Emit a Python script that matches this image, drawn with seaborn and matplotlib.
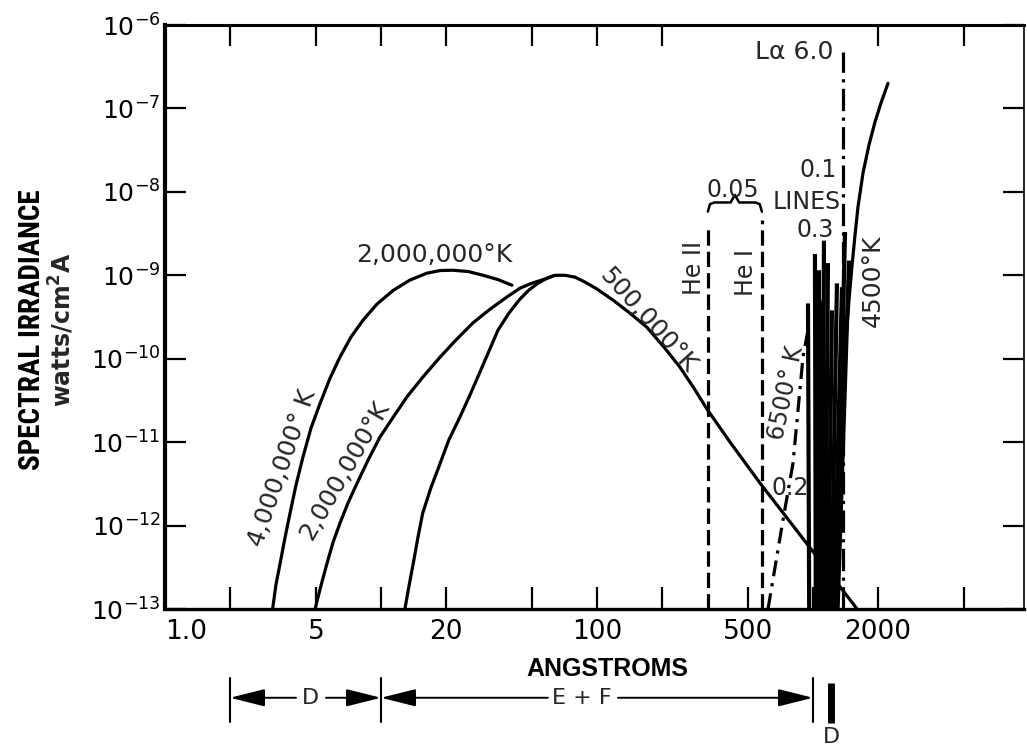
import numpy as np
import pandas as pd
import matplotlib
matplotlib.use("Agg")
import matplotlib.pyplot as plt
import matplotlib.transforms as mtransforms
from matplotlib import font_manager
import seaborn as sns

# ---------------- data ----------------
# curve 1 : 4,000,000 K branch that continues as the upper 2,000,000 K arc
c1_wl = [3.15, 3.26, 3.41, 3.59, 3.79, 4.04, 4.35, 4.74, 5.22, 5.81, 6.46, 7.26,
         8.26, 9.58, 11.4, 13.6, 16.3, 18.8, 21.5, 25.3, 29.7, 34.8, 40.4]
c1_f = [1.0e-13, 1.93e-13, 3.5e-13, 7.06e-13, 1.4e-12, 3.05e-12, 6.6e-12, 1.47e-11,
        2.9e-11, 5.85e-11, 1.05e-10, 1.82e-10, 2.9e-10, 4.52e-10, 6.6e-10, 8.75e-10,
        1.06e-9, 1.14e-9, 1.15e-9, 1.11e-9, 1.0e-9, 8.88e-10, 7.6e-10]
# curve 2 : 2,000,000 K
c2_wl = [4.95, 5.28, 5.62, 6.0, 6.46, 7.03, 7.74, 8.71, 9.89, 11.4, 13.2, 15.6,
         18.8, 22.2, 26.7, 32.0, 38.3, 44.0, 50.0, 57.4, 62.6]
c2_f = [1.0e-13, 1.93e-13, 3.5e-13, 6.32e-13, 1.07e-12, 1.86e-12, 3.2e-12, 6.08e-12,
        1.15e-11, 2.0e-11, 3.5e-11, 6.0e-11, 1.05e-10, 1.67e-10, 2.7e-10, 3.93e-10,
        5.5e-10, 7.0e-10, 8.05e-10, 9.0e-10, 9.8e-10]
# curve 3 : 500,000 K
c3_wl = [12.9, 13.5, 14.1, 14.8, 15.6, 17.0, 18.8, 20.6, 23.2, 25.8, 28.7, 31.6,
         34.8, 39.1, 44.0, 48.4, 53.3, 58.7, 63.9, 71.1, 79.1, 88.0, 100, 118.6,
         142, 170, 206, 242, 281, 323, 413, 569, 918, 1600]
c3_f = [1.0e-13, 1.93e-13, 3.5e-13, 7.06e-13, 1.41e-12, 2.81e-12, 5.6e-12, 1.06e-11,
        2.0e-11, 3.66e-11, 6.9e-11, 1.23e-10, 2.2e-10, 3.52e-10, 5.19e-10, 6.65e-10,
        8.05e-10, 9.25e-10, 1.0e-9, 1.0e-9, 9.5e-10, 8.29e-10, 6.84e-10, 5.04e-10,
        3.52e-10, 2.39e-10, 1.34e-10, 7.93e-11, 4.44e-11, 2.49e-11, 1.0e-11, 3.22e-12,
        6.5e-13, 1.0e-13]
# 4500 K photospheric curve
c4500_wl = [1211, 1265, 1319, 1376, 1422, 1468, 1517, 1565, 1615, 1704, 1816, 1936,
            2064, 2224]
c4500_f = [1.0e-13, 6.68e-13, 6.08e-12, 4.2e-11, 1.67e-10, 5.04e-10, 1.33e-9, 3.03e-9,
           6.57e-9, 1.68e-8, 3.64e-8, 6.87e-8, 1.16e-7, 2.0e-7]
# 6500 K (dash-dot)
c6500_wl = [619, 726, 808, 899, 948]
c6500_f = [1.0e-13, 1.16e-12, 5.6e-12, 1.05e-10, 2.2e-10]
# helium lines (dashed) and Lyman alpha (dash-dot)
he_names = ["He II", "He I"]
he_wl = [326, 580]
he_top = [3.8e-9, 4.6e-9]
lya_wl = 1376
lya_top = 4.7e-7
# emission line spikes
line_top_wl = [948, 1021, 1066, 1101, 1124, 1173, 1224, 1291, 1362, 1407, 1468]
line_base_wl = [960, 1030, 1060, 1085, 1105, 1140, 1175, 1215, 1250, 1280, 1300]
line_peak = [4.6e-10, 1.8e-9, 1.15e-9, 5.0e-10, 2.6e-9, 1.4e-9, 3.8e-10, 8.0e-10,
             7.2e-10, 3.3e-9, 1.5e-9]
floor = 1.0e-13
# axis ticks
x_tick_marks = [1, 2, 5, 10, 20, 50, 100, 200, 500, 1000, 2000, 5000]
x_top_marks = [2, 5, 10, 20, 50, 100, 200, 2000, 5000]
x_labels = {1: "1.0", 5: "5", 20: "20", 100: "100", 500: "500", 2000: "2000"}
y_ticks = [1e-13, 1e-12, 1e-11, 1e-10, 1e-9, 1e-8, 1e-7, 1e-6]
# wavelength ranges below the axis
range_edges = [2, 10, 1000]
range_names = ["D", "E + F"]
range_label_wl = [4.69, 85]
lya_band_wl = 1216

# ---------------- style ----------------
sns.set_theme(style="ticks")
available = {f.name for f in font_manager.fontManager.ttflist}


def pick(*names):
    for n in names:
        if n in available:
            return n
    return "DejaVu Sans"


plt.rcParams["font.family"] = ["DejaVu Sans"]
plt.rcParams["mathtext.fontset"] = "dejavusans"
cond = pick("Liberation Sans Narrow", "DejaVu Sans Condensed", "Roboto Condensed",
            "Liberation Sans")
helv = pick("Liberation Sans", "Roboto", "DejaVu Sans")

W, H = 1027, 748
fig = plt.figure(figsize=(W / 100, H / 100), dpi=100)
fig.patch.set_facecolor("white")
ax = fig.add_axes([165 / W, 1 - 609 / H, (1024 - 165) / W, (609 - 25) / H])
ax.set_facecolor("white")
ax.set_xscale("log")
ax.set_yscale("log")

LW = 2.3
K = "black"

# ---------------- curves via seaborn ----------------
curves = pd.concat([
    pd.DataFrame({"wl": c1_wl, "f": c1_f, "curve": "4e6"}),
    pd.DataFrame({"wl": c2_wl, "f": c2_f, "curve": "2e6"}),
    pd.DataFrame({"wl": c3_wl, "f": c3_f, "curve": "5e5"}),
    pd.DataFrame({"wl": c4500_wl, "f": c4500_f, "curve": "4500"}),
], ignore_index=True)
sns.lineplot(data=curves, x="wl", y="f", units="curve", estimator=None, sort=False,
             color=K, linewidth=LW, ax=ax, legend=False)

# 6500 K dash-dot
ax.plot(c6500_wl, c6500_f, color=K, lw=LW, ls=(0, (5, 2.2, 1, 2.2)))
# helium lines dashed
for w, t in zip(he_wl, he_top):
    ax.plot([w, w], [floor, t], color=K, lw=LW, ls=(0, (4.8, 1.9)))
# Lyman alpha
ax.plot([lya_wl, lya_wl], [floor, lya_top], color=K, lw=LW, ls=(0, (7, 2, 1, 2)))
# emission line spikes
for b, t, p in zip(line_base_wl, line_top_wl, line_peak):
    ax.plot([b, t], [floor, p], color=K, lw=3.0, solid_capstyle="butt")

# brace over the helium lines
lx0, lx1 = np.log10(he_wl[0]), np.log10(he_wl[1])
ly0 = np.log10(max(he_top)) + 0.10
bx = np.array([lx0, lx0 + 0.01, lx0 + 0.03, (lx0 + lx1) / 2 - 0.02, (lx0 + lx1) / 2,
               (lx0 + lx1) / 2 + 0.02, lx1 - 0.03, lx1 - 0.01, lx1])
by = np.array([ly0, ly0 + 0.09, ly0 + 0.11, ly0 + 0.11, ly0 + 0.2, ly0 + 0.11,
               ly0 + 0.11, ly0 + 0.09, ly0])
ax.plot(10 ** bx, 10 ** by, color=K, lw=1.8)

# ---------------- axes ----------------
ax.set_xlim(1, 10 ** (859 / 216))
ax.set_ylim(1e-13, 1e-6)
ax.set_xticks(x_tick_marks)
ax.set_xticklabels([x_labels.get(v, "") for v in x_tick_marks])
ax.xaxis.set_minor_locator(matplotlib.ticker.NullLocator())
ax.yaxis.set_minor_locator(matplotlib.ticker.NullLocator())
ax.set_yticks(y_ticks)
ax.set_yticklabels([r"$10^{%d}$" % int(round(np.log10(v))) for v in y_ticks])
ax.tick_params(axis="x", which="major", direction="in", length=16, width=1.6,
               labelsize=19, pad=7, colors=K, bottom=True, top=False)
ax.tick_params(axis="y", which="major", direction="in", length=15, width=1.6,
               labelsize=18, pad=3, colors=K, left=True, right=True)
ax.get_xticklabels()[0].set_horizontalalignment("left")
for s, lw in [("left", 3.0), ("bottom", 2.4), ("top", 2.2), ("right", 1.2)]:
    ax.spines[s].set_visible(True)
    ax.spines[s].set_linewidth(lw)
    ax.spines[s].set_color(K)

secx = ax.secondary_xaxis("top")
secx.set_xticks(x_top_marks)
secx.xaxis.set_minor_locator(matplotlib.ticker.NullLocator())
secx.tick_params(direction="in", length=15, width=1.6, labeltop=False, colors=K)
secx.set_xticklabels([])

ax.set_xlabel("ANGSTROMS", fontfamily=helv, fontweight="bold", fontsize=18, color=K)
ax.xaxis.set_label_coords(0.515, -0.082)
ax.set_ylabel("SPECTRAL IRRADIANCE", fontfamily=cond, fontweight="bold", fontsize=21,
              color=K)
ax.yaxis.set_label_coords(-0.138, 0.478)
ax.text(-0.12, 0.478, r"watts/cm$^{\mathbf{2}}$A", transform=ax.transAxes, rotation=90,
        ha="center", va="center", fontsize=17, fontweight="bold")

# ---------------- curve labels ----------------
fs = 18
ax.text(17.6, 1.75e-9, "2,000,000°K", fontsize=fs, ha="center", va="center")
ax.text(3.48, 4.9e-12, "4,000,000° K", fontsize=fs, ha="center", va="center",
        rotation=71)
ax.text(6.81, 4.6e-12, "2,000,000°K", fontsize=fs, ha="center", va="center",
        rotation=60)
ax.text(172, 2.9e-10, "500,000°K", fontsize=fs, ha="center", va="center",
        rotation=-48)
ax.text(281, 1.22e-9, he_names[0], fontsize=17, ha="center", va="center", rotation=90)
ax.text(490, 1.09e-9, he_names[1], fontsize=17, ha="center", va="center", rotation=90)
ax.text(426, 1.05e-8, "0.05", fontsize=17, ha="center", va="center")
ax.text(1055, 1.82e-8, "0.1", fontsize=17, ha="center", va="center")
ax.text(938, 7.55e-9, "LINES", fontsize=17, ha="center", va="center")
ax.text(1021, 3.48e-9, "0.3", fontsize=17, ha="center", va="center")
ax.text(1896, 8.7e-10, "4500°K", fontsize=fs, ha="center", va="center", rotation=90)
ax.text(750, 3.9e-11, "6500° K", fontsize=17, ha="center", va="center", rotation=78)
ax.text(783, 2.8e-12, "0.2", fontsize=17, ha="center", va="center")
ax.text(1238, 4.7e-7, "Lα 6.0", fontsize=fs, ha="right", va="center")

# ---------------- wavelength ranges below the axis ----------------
bt = mtransforms.blended_transform_factory(ax.transData, ax.transAxes)
y_row = -0.152
for e in range_edges:
    ax.plot([e, e], [-0.118, -0.193], transform=bt, color=K, lw=1.5, clip_on=False)
ax.plot([lya_band_wl, lya_band_wl], [-0.127, -0.195], transform=bt, color=K, lw=5,
        clip_on=False, solid_capstyle="butt")
ax.text(lya_band_wl, -0.219, "D", transform=bt, ha="center", va="center", fontsize=16)
arrow = dict(arrowstyle="-|>,head_length=1.8,head_width=0.45", color=K, lw=1.4,
             shrinkA=0, shrinkB=0)
gaps = [(4.04, 5.56), (59.2, 125)]
for (lo, hi), name, lab, (g0, g1) in zip(zip(range_edges[:-1], range_edges[1:]),
                                          range_names, range_label_wl, gaps):
    ax.text(lab, y_row, name, transform=bt, ha="center", va="center", fontsize=16)
    ax.annotate("", xy=(lo, y_row), xytext=(g0, y_row), xycoords=bt, textcoords=bt,
                arrowprops=arrow, annotation_clip=False)
    ax.annotate("", xy=(hi, y_row), xytext=(g1, y_row), xycoords=bt, textcoords=bt,
                arrowprops=arrow, annotation_clip=False)

fig.savefig("out.png", dpi=100, facecolor="white")
